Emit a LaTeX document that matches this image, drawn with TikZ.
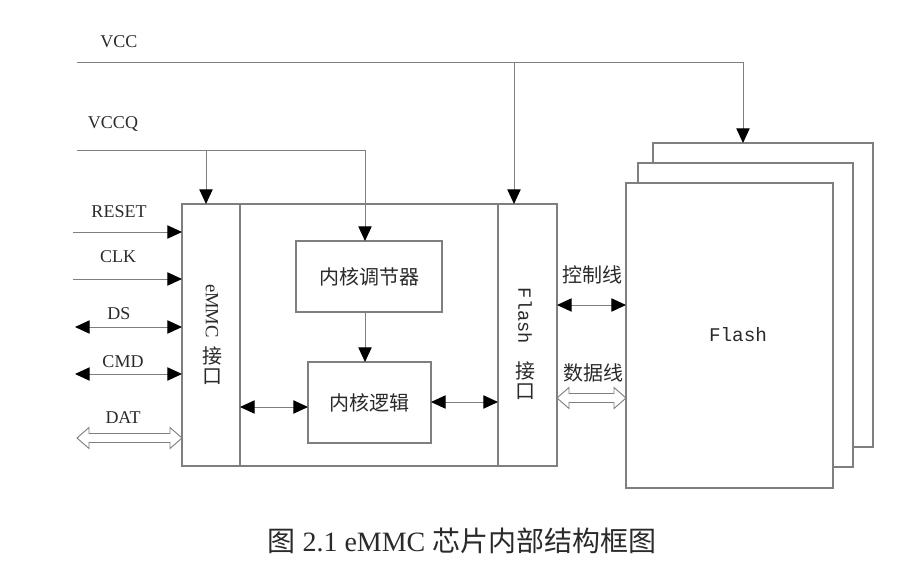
\documentclass[tikz,border=0pt]{standalone}
\usepackage{fontspec}
\setmainfont{Liberation Serif}
\newfontfamily\cjk{Noto Sans CJK SC}
\newfontfamily\monofont{Liberation Mono}
\usetikzlibrary{arrows.meta,calc}
\definecolor{ln}{HTML}{7F7F7F}
\definecolor{tx}{HTML}{2A2A2A}
\tikzset{
  box/.style={draw=ln,line width=0.8pt,fill=white,inner sep=0pt,outer sep=0pt,rectangle},
  wire/.style={draw=ln,line width=0.75pt},
  arr/.style={wire,-{Triangle[length=11pt,width=10pt,fill=black,color=black]}},
  barr/.style={wire,{Triangle[length=11pt,width=10pt,fill=black,color=black]}-{Triangle[length=11pt,width=10pt,fill=black,color=black]}},
  hollow/.style={draw=ln,line width=0.7pt,fill=white},
  lab/.style={text=tx,font=\fontsize{13.5}{15}\selectfont,inner sep=0pt},
  cjklab/.style={text=tx,font=\cjk\fontsize{15}{17}\selectfont,inner sep=0pt},
}
\newcommand\rectnode[6][]{\node[box,#1,minimum width={(#5-#3)*0.75pt},minimum height={(#6-#4)*0.75pt}] (#2) at ({(#3+#5)/2},{(#4+#6)/2}) {};}
\newcommand\hollowarr[3]{%
  \draw[hollow] (#1,#3) -- ({#1+12},{#3-10.5}) -- ({#1+12},{#3-4.5}) -- ({#2-12},{#3-4.5}) -- ({#2-12},{#3-10.5}) -- (#2,#3) -- ({#2-12},{#3+10.5}) -- ({#2-12},{#3+4.5}) -- ({#1+12},{#3+4.5}) -- ({#1+12},{#3+10.5}) -- cycle;}
\begin{document}
\begin{tikzpicture}[x=0.75pt,y=-0.75pt]
\useasboundingbox (0,0) rectangle (908,568);
% main chip
\rectnode{main}{182}{204}{557}{466}
\rectnode{emmc}{182}{204}{240}{466}
\rectnode{fif}{498}{204}{557}{466}
\rectnode{reg}{296}{241}{442}{312}
\rectnode{logic}{308}{362}{431}{443}
% flash stack
\rectnode{back}{653}{143}{873}{447}
\rectnode{mid}{638}{163}{853}{467}
\rectnode{front}{626}{183}{833}{488}
% texts in boxes
\node[cjklab] at (reg.center) {内核调节器};
\node[cjklab] at (logic.center) {内核逻辑};
\node[text=tx,font=\monofont\fontsize{14.5}{16}\selectfont,inner sep=0pt] (flashlab) at (738,335) {Flash};
\node[lab,rotate=-90,font=\fontsize{14}{16}\selectfont] (emmcv) at (212,311) {eMMC};
\node[cjklab] (emmcj) at (212,356) {接};
\node[cjklab] (emmck) at (212,377) {口};
\node[lab,rotate=-90,font=\monofont\fontsize{14}{16}\selectfont] (fifv) at (525,316) {Flash};
\node[cjklab] (fifj) at (525,371) {接};
\node[cjklab] (fifk) at (525,392) {口};
% power lines
\coordinate (vccL) at (77,62);
\coordinate (vccB) at (514,62);
\coordinate (vccT) at (743,62);
\coordinate (vccqL) at (77,150);
\coordinate (vccqB) at (206,150);
\coordinate (vccqT) at (365,150);
\draw[wire] (vccL) -- (vccT);
\draw[arr] (vccT) -- (vccT |- back.north);
\draw[arr] (vccB) -- (vccB |- fif.north);
\draw[wire] (vccqL) -- (vccqT);
\draw[arr] (vccqT) -- (vccqT |- reg.north);
\draw[arr] (vccqB) -- (vccqB |- emmc.north);
\node[lab] (vcclab) at (119,42) {VCC};
\node[lab] (vccqlab) at (113,124) {VCCQ};
% inner connections
\draw[arr] (vccqT |- reg.south) -- (vccqT |- logic.north);
\coordinate (la) at (240,407);
\coordinate (ra) at (498,402);
\draw[barr] (la) -- (la -| logic.west);
\draw[barr] (ra -| logic.east) -- (ra);
% left signals
\coordinate (rs) at (73,232);
\coordinate (ck) at (73,279);
\coordinate (ds) at (75,327);
\coordinate (cm) at (75,374);
\draw[arr] (rs) -- (rs -| emmc.west);
\draw[arr] (ck) -- (ck -| emmc.west);
\draw[barr] (ds) -- (ds -| emmc.west);
\draw[barr] (cm) -- (cm -| emmc.west);
\hollowarr{77}{182}{438}
\node[lab] (rslab) at (119,212) {RESET};
\node[lab] (cklab) at (118,257) {CLK};
\node[lab] (dslab) at (119,314) {DS};
\node[lab] (cmlab) at (123,362) {CMD};
\node[lab] (dtlab) at (123,418) {DAT};
% flash lines
\coordinate (ctl) at (557,305);
\draw[barr] (ctl) -- (ctl -| front.west);
\hollowarr{557}{626}{398}
\node[cjklab] (ctllab) at (592,275) {控制线};
\node[cjklab] (datlab) at (593,373) {数据线};
% caption
\node[text=tx,font=\fontsize{21}{24}\selectfont,inner sep=0pt] (cap) at (462,541) {{\cjk 图} 2.1 eMMC {\cjk 芯片内部结构框图}};
\end{tikzpicture}
\end{document}
